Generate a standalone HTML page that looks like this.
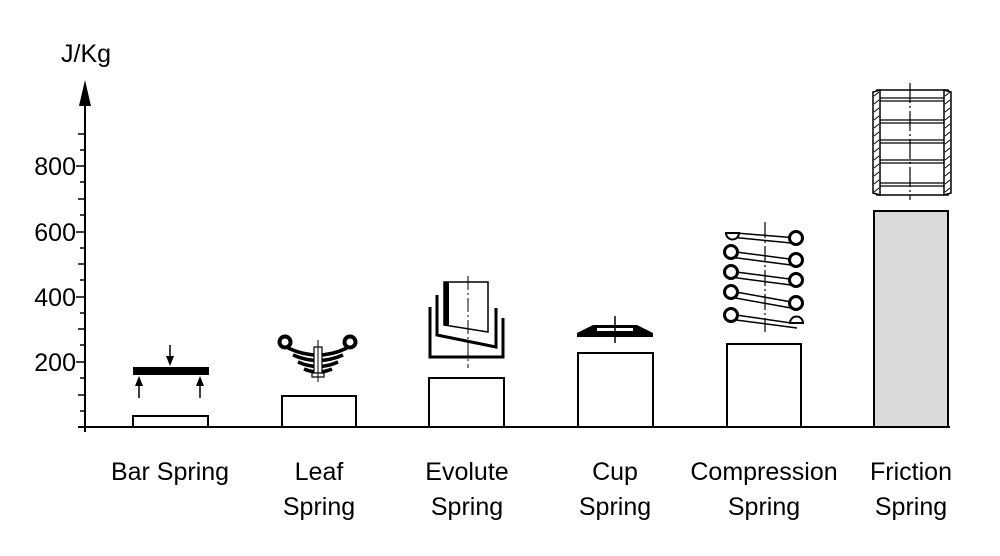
<!DOCTYPE html>
<html><head><meta charset="utf-8"><style>
html,body{margin:0;padding:0;background:#fff;}
svg{display:block;}
text{font-family:"Liberation Sans",sans-serif;fill:#000;}
</style></head><body>
<svg width="1000" height="556" viewBox="0 0 1000 556" xmlns="http://www.w3.org/2000/svg">
<line x1="85" y1="98" x2="85" y2="432" stroke="#000" stroke-width="2"/>
<polygon points="85,80 79,106 91,106" fill="#000"/>
<line x1="78" y1="427" x2="950" y2="427" stroke="#000" stroke-width="2"/>
<g stroke="#000" stroke-width="1.5">
<line x1="78" y1="134" x2="85" y2="134"/><line x1="80" y1="150" x2="85" y2="150"/>
<line x1="76" y1="166" x2="85" y2="166"/><line x1="80" y1="182" x2="85" y2="182"/>
<line x1="78" y1="199" x2="85" y2="199"/><line x1="80" y1="215" x2="85" y2="215"/>
<line x1="76" y1="232" x2="85" y2="232"/><line x1="80" y1="248" x2="85" y2="248"/>
<line x1="78" y1="264" x2="85" y2="264"/><line x1="80" y1="280" x2="85" y2="280"/>
<line x1="76" y1="297" x2="85" y2="297"/><line x1="80" y1="313" x2="85" y2="313"/>
<line x1="78" y1="329" x2="85" y2="329"/><line x1="80" y1="345" x2="85" y2="345"/>
<line x1="76" y1="362" x2="85" y2="362"/><line x1="80" y1="378" x2="85" y2="378"/>
<line x1="78" y1="395" x2="85" y2="395"/><line x1="80" y1="411" x2="85" y2="411"/>
</g>
<g font-size="25" text-anchor="end">
<text x="76" y="175">800</text><text x="76" y="241">600</text>
<text x="76" y="306">400</text><text x="76" y="371">200</text>
</g>
<text x="61" y="62" font-size="25">J/Kg</text>
<g stroke="#000" stroke-width="2" fill="#fff">
<rect x="133" y="416" width="75" height="11"/>
<rect x="282" y="396" width="74" height="31"/>
<rect x="429" y="378" width="75" height="49"/>
<rect x="578" y="353" width="75" height="74"/>
<rect x="727" y="344" width="74" height="83"/>
<rect x="874" y="211" width="74" height="216" fill="#dadada"/>
</g>
<g font-size="25" text-anchor="middle">
<text x="170" y="480">Bar Spring</text>
<text x="319" y="480">Leaf</text><text x="319" y="515">Spring</text>
<text x="467" y="480">Evolute</text><text x="467" y="515">Spring</text>
<text x="615" y="480">Cup</text><text x="615" y="515">Spring</text>
<text x="764" y="480">Compression</text><text x="764" y="515">Spring</text>
<text x="911" y="480">Friction</text><text x="911" y="515">Spring</text>
</g>
<rect x="133" y="367" width="76" height="8" fill="#000"/>
<g stroke="#000" stroke-width="1.5"><line x1="170" y1="345" x2="170" y2="360"/><line x1="139" y1="384" x2="139" y2="398"/><line x1="200" y1="384" x2="200" y2="398"/></g>
<polygon points="170,366 166,356 174,356" fill="#000"/>
<polygon points="139,376 135,386 143,386" fill="#000"/>
<polygon points="200,376 196,386 204,386" fill="#000"/>
<g fill="none" stroke="#000">
<circle cx="285" cy="342" r="5.5" stroke-width="4"/>
<circle cx="350" cy="342" r="5.5" stroke-width="4"/>
<path d="M288,348 Q318,362 347,348" stroke-width="3.5"/>
<path d="M293,355 Q318,366 343,355" stroke-width="3.5"/>
<path d="M298,362 Q318,371 338,362" stroke-width="3.5"/>
<path d="M304,369 Q318,375 332,369" stroke-width="3.5"/>
<rect x="314" y="347" width="8" height="26" fill="#fff" stroke-width="1.2"/>
<rect x="312" y="373" width="12" height="4" fill="#fff" stroke-width="1.2"/>
<line x1="318" y1="340" x2="318" y2="382" stroke-width="1"/>
</g>
<g fill="none" stroke="#000">
<path d="M444,282 L444,325 L488,332 L488,282 Z" stroke-width="1.5"/>
<rect x="444" y="282" width="5" height="44" fill="#000" stroke="none"/>
<path d="M437,295 L437,335 L496,347 L496,308" stroke-width="3"/>
<path d="M430,307 L430,357 L503,357 L503,318" stroke-width="3"/>
<line x1="468" y1="276" x2="468" y2="368" stroke-width="1" stroke-dasharray="14,3,2,3"/>
</g>
<polygon points="577,333 593,325 637,325 653,333 653,337 577,337" fill="#000"/>
<rect x="597" y="328" width="36" height="3" fill="#fff"/>
<line x1="615" y1="316" x2="615" y2="343" stroke="#000" stroke-width="1.5"/>
<g fill="none" stroke="#000" stroke-width="1.5">
<path d="M736,233 L797,238 M736,252 L797,260 M736,272 L797,280 M736,292 L797,303 M736,315 L791,323"/>
<path d="M730,237 L791,243 M730,257 L791,265 M730,277 L791,285 M730,297 L791,308 M736,320 L797,328"/>
</g>
<g fill="#fff" stroke="#000" stroke-width="3">
<circle cx="731" cy="252" r="6.5"/><circle cx="731" cy="272" r="6.5"/><circle cx="731" cy="292" r="6.5"/><circle cx="731" cy="315" r="6.5"/>
<circle cx="796" cy="238" r="6.5"/><circle cx="796" cy="260" r="6.5"/><circle cx="796" cy="280" r="6.5"/><circle cx="796" cy="303" r="6.5"/>
</g>
<path d="M726,233 L739,233 A6.5,6.5 0 0 1 726,233 Z" fill="#fff" stroke="#000" stroke-width="2"/>
<path d="M790,323 L803,323 A6.5,6.5 0 0 0 790,323 Z" fill="#fff" stroke="#000" stroke-width="2"/>
<line x1="765" y1="222" x2="765" y2="332" stroke="#000" stroke-width="1.2" stroke-dasharray="16,3,2,3"/>
<g fill="none" stroke="#000">
<rect x="877" y="90" width="71" height="105" stroke-width="1.5"/>
<path d="M873,92 L880,90 L880,195 L873,193 Z M951,92 L944,90 L944,195 L951,193 Z" fill="#fff" stroke-width="1.5"/>
<path d="M874,96 l5,-4 M874,104 l5,-4 M874,112 l5,-4 M874,120 l5,-4 M874,128 l5,-4 M874,136 l5,-4 M874,144 l5,-4 M874,152 l5,-4 M874,160 l5,-4 M874,168 l5,-4 M874,176 l5,-4 M874,184 l5,-4 M874,192 l5,-4" stroke-width="1"/>
<path d="M945,96 l5,-4 M945,104 l5,-4 M945,112 l5,-4 M945,120 l5,-4 M945,128 l5,-4 M945,136 l5,-4 M945,144 l5,-4 M945,152 l5,-4 M945,160 l5,-4 M945,168 l5,-4 M945,176 l5,-4 M945,184 l5,-4 M945,192 l5,-4" stroke-width="1"/>
<g stroke-width="1.2">
<line x1="880" y1="98" x2="944" y2="98"/><line x1="880" y1="101" x2="944" y2="101"/>
<line x1="880" y1="120" x2="944" y2="120"/><line x1="880" y1="123" x2="944" y2="123"/>
<line x1="880" y1="140" x2="944" y2="140"/><line x1="880" y1="143" x2="944" y2="143"/>
<line x1="880" y1="160" x2="944" y2="160"/><line x1="880" y1="163" x2="944" y2="163"/>
<line x1="880" y1="183" x2="944" y2="183"/><line x1="880" y1="186" x2="944" y2="186"/>
</g>
<line x1="910" y1="83" x2="910" y2="200" stroke-width="1.2" stroke-dasharray="20,3,2,3"/>
</g>
</svg>
</body></html>
